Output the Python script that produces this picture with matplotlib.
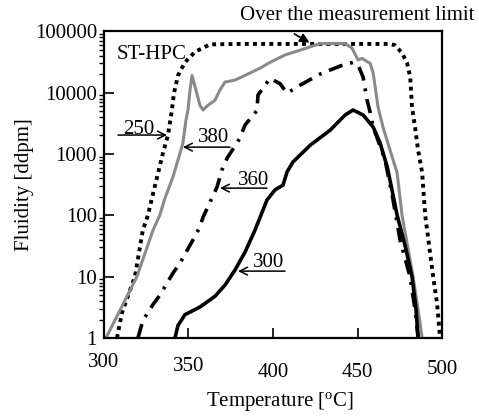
import matplotlib
matplotlib.use("Agg")
import matplotlib.pyplot as plt
import matplotlib.transforms as mtransforms
from matplotlib.ticker import LogLocator, NullFormatter

# dados (temperatura [oC], fluidez [ddpm])
t_250 = [307.7, 310.7, 318.3, 323, 326, 328.4, 334.9, 337.9, 340.2, 341.4, 343.8, 347.9,
         353.8, 362.7, 380, 420, 469, 472.2, 476.3, 479.3, 481.1, 482.2, 484, 485.8,
         488.2, 490, 494.7, 497, 498.8]
f_250 = [1, 2.6, 10, 57, 100, 190, 1030, 2030, 5200, 9800, 19000, 31000,
         46000, 61000, 62000, 62000, 62000, 59000, 44000, 30000, 18000, 5800, 2700, 1150,
         490, 100, 10, 3.7, 1]

t_380 = [301.2, 319.5, 329, 333, 336.1, 340.8, 345, 346.7, 348.5, 349.7, 350.9, 352.1,
         354.4, 356.8, 358.6, 361.5, 365.7, 368.6, 371.6, 377.5, 383.4, 392.3, 398.2,
         407.1, 416, 427.8, 442.6, 446.7, 450.3, 452.7, 455.6, 457.4, 459.2, 462.1,
         465.1, 469.2, 473.4, 476.3, 482.8, 485.8, 488.2]
f_380 = [1, 10, 57, 100, 190, 420, 1030, 1500, 3550, 5200, 11000, 19000,
         11000, 6200, 5200, 6200, 7500, 11000, 14800, 16000, 19000, 25000, 31000,
         41000, 49000, 63000, 63000, 53000, 34000, 36000, 32000, 30000, 21000, 5800,
         2700, 1150, 490, 100, 10, 2.9, 1]

t_360 = [320.1, 323.1, 329, 333.1, 340.8, 345, 352.7, 356.8, 358.6, 366.9, 369.8, 372.8,
         380.5, 383.4, 390.5, 391.1, 398.2, 404.1, 408.3, 416, 427.8, 439.6, 447.3,
         450.3, 453.3, 455.6, 457.4, 459.2, 462.1, 466.3, 471, 475.1, 481, 484, 485.8]
f_360 = [1, 1.95, 3.5, 5, 11.4, 16.6, 40, 65, 93, 290, 550, 850,
         1820, 2950, 5100, 9100, 17000, 14000, 9800, 13200, 20000, 27000, 31000,
         28000, 17800, 7600, 4800, 2750, 1660, 790, 178, 40, 10, 2.9, 1]

t_300 = [342, 343.8, 347.9, 356.8, 365.7, 371.6, 377.5, 383.4, 389.3, 396.4, 401.2, 405.9,
         408.3, 411.8, 421.9, 433.7, 442.6, 447.3, 453.3, 459.2, 463.3, 467.5, 469.2,
         473.4, 478.1, 482.2, 484.6, 485.8]
f_300 = [1, 1.6, 2.4, 3.2, 4.8, 7.3, 12.8, 25, 57, 177, 260, 310,
         510, 740, 1380, 2430, 4300, 5200, 4300, 2750, 1510, 620, 370,
         100, 32, 10, 2.9, 1]

xticks = [300, 350, 400, 450, 500]
yticks = [1, 10, 100, 1000, 10000, 100000]

# rotulos das curvas: texto, x do texto, y da base do texto, seta (x inicio, x fim, y)
rotulos = ['250', '380', '360', '300']
rot_x = [311.2, 355.6, 379.3, 388.2]
rot_y = [2150, 1550, 310, 14.3]
seta_x0 = [308.3, 374.6, 396.4, 407.1]
seta_x1 = [337.3, 346.7, 368.6, 379.3]
seta_y = [2030, 1290, 277, 12.3]

plt.rcParams['font.family'] = ['Liberation Serif', 'DejaVu Serif']
fs = 15

fig = plt.figure(figsize=(4.79, 4.16), dpi=100)
ax = fig.add_axes([0.217, 0.1875, 0.706, 0.7375])

ax.plot(t_250, f_250, color='black', lw=2.8, linestyle=(0, (1, 1.1)))
ax.plot(t_380, f_380, color='#8a8a8a', lw=2.2)
ax.plot(t_360, f_360, color='black', lw=2.6, linestyle=(0, (4, 2.2, 0.8, 2.2)))
ax.plot(t_300, f_300, color='black', lw=2.6)

ax.set_yscale('log')
ax.set_xlim(300, 500)
ax.set_ylim(1, 100000)
ax.set_xticks(xticks)
ax.set_xticklabels([str(v) for v in xticks])
ax.set_yticks(yticks)
ax.set_yticklabels([str(v) for v in yticks])
ax.yaxis.set_minor_locator(LogLocator(base=10, subs=range(2, 10)))
ax.yaxis.set_minor_formatter(NullFormatter())
ax.tick_params(axis='both', direction='in', labelsize=fs)
ax.tick_params(axis='y', which='major', length=7, width=1.2, pad=5)
ax.tick_params(axis='y', which='minor', length=3.5, width=1)
ax.tick_params(axis='x', which='major', length=7, width=1.2, pad=11)
for s in ax.spines.values():
    s.set_linewidth(1.6)

# os rotulos do eixo x ficam desalinhados no original
desloc = [0, -3, -7, -7, -5]
for lab, d in zip(ax.get_xticklabels(), desloc):
    lab.set_transform(lab.get_transform() +
                      mtransforms.ScaledTranslation(0, d / 72, fig.dpi_scale_trans))

ax.set_xlabel('Temperature [$\\mathregular{^{o}}$C]', fontsize=fs)
ax.xaxis.set_label_coords(0.52, -0.17)
ax.set_ylabel('Fluidity [ddpm]', fontsize=fs)
ax.yaxis.set_label_coords(-0.208, 0.5)

# textos e setas
ax.text(307.5, 41000, 'ST-HPC', fontsize=fs, va='center', ha='left')
ax.text(449.7, 180000, 'Over the measurement limit', fontsize=fs, va='center', ha='center')
ax.annotate('', xy=(423, 62000), xytext=(411.2, 95000),
            arrowprops=dict(arrowstyle='-|>', color='black', lw=1.2, mutation_scale=14),
            annotation_clip=False)

arr = dict(arrowstyle='->', color='black', lw=1.1, mutation_scale=14, shrinkA=0, shrinkB=0)
for txt, tx, ty, x0, x1, sy in zip(rotulos, rot_x, rot_y, seta_x0, seta_x1, seta_y):
    ax.annotate('', xy=(x1, sy), xytext=(x0, sy), arrowprops=arr)
    ax.text(tx, ty, txt, fontsize=fs, ha='left', va='baseline')

fig.savefig('out.png', dpi=100)
